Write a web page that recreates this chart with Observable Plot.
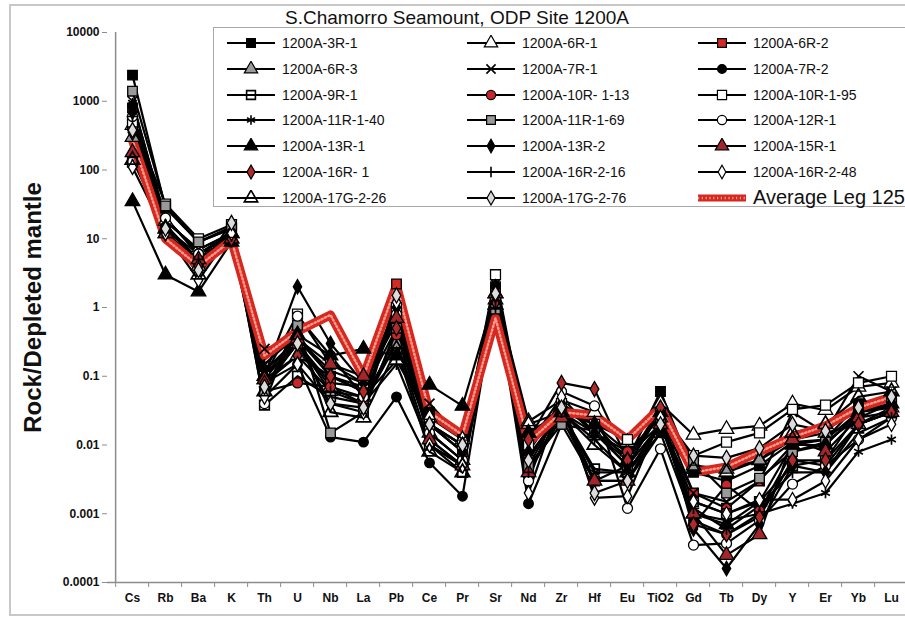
<!DOCTYPE html>
<html><head><meta charset="utf-8">
<script src="https://cdn.jsdelivr.net/npm/d3@7"></script>
<script src="https://cdn.jsdelivr.net/npm/@observablehq/plot@0.6"></script>
<style>
html,body{margin:0;padding:0;background:#fff;overflow:hidden;}
#wrap{position:relative;width:905px;height:623px;overflow:hidden;font-family:"Liberation Sans",Arial,sans-serif;color:#111;}
#border{position:absolute;left:9px;top:4px;width:930px;height:612px;border:2px solid #c8c8c8;box-sizing:border-box;}
#chart{position:absolute;left:0;top:0;width:922px;}
#chart svg{max-width:none !important;}
#title{position:absolute;top:7px;left:457px;transform:translateX(-50%);font-size:19px;white-space:nowrap;line-height:22px;}
#legend{position:absolute;left:213px;top:27px;width:720px;height:180px;border:1.5px solid #a8a8a8;background:#fff;box-sizing:border-box;}
.item{position:absolute;height:22px;display:flex;align-items:center;font-size:14px;white-space:nowrap;}
.item svg{margin-right:7px;}
</style></head>
<body><div id="wrap"><div id="border"></div><div id="chart"></div><div id="title">S.Chamorro Seamount, ODP Site 1200A</div><div id="legend"></div></div>
<script>
const categories = ["Cs","Rb","Ba","K","Th","U","Nb","La","Pb","Ce","Pr","Sr","Nd","Zr","Hf","Eu","TiO2","Gd","Tb","Dy","Y","Er","Yb","Lu"];
const yTicks = [0.0001,0.001,0.01,0.1,1,10,100,1000,10000];
const yTickLabels = ["0.0001","0.001","0.01","0.1","1","10","100","1000","10000"];

const seriesNames = ["1200A-3R-1","1200A-6R-1","1200A-6R-2","1200A-6R-3","1200A-7R-1","1200A-7R-2","1200A-9R-1","1200A-10R- 1-13","1200A-10R-1-95","1200A-11R-1-40","1200A-11R-1-69","1200A-12R-1","1200A-13R-1","1200A-13R-2","1200A-15R-1","1200A-16R- 1","1200A-16R-2-16","1200A-16R-2-48","1200A-17G-2-26","1200A-17G-2-76"];
const averageName = "Average Leg 125";

const s3R1    = [2400,28,9,15,0.12,0.35,0.1,0.06,1.0,0.03,0.012,2.0,0.009,0.04,0.015,0.006,0.06,0.004,0.003,0.005,0.011,0.012,0.04,0.05];
const s6R1    = [450,18,7,12,0.1,0.3,0.07,0.05,0.17,0.025,0.012,1.6,0.022,0.045,0.03,0.011,0.04,0.014,0.017,0.019,0.04,0.032,0.07,0.08];
const s6R2    = [800,14,5,10,0.1,0.3,0.08,0.07,2.2,0.02,0.008,1.8,0.006,0.035,0.003,0.005,0.03,0.002,0.0012,0.003,0.01,0.012,0.03,0.04];
const s6R3    = [300,12,4,10,0.09,0.2,0.06,0.05,0.3,0.015,0.006,1.3,0.015,0.03,0.015,0.008,0.025,0.005,0.0045,0.006,0.012,0.015,0.02,0.035];
const s7R1    = [1000,18,7,12,0.25,0.35,0.12,0.08,0.6,0.04,0.012,2.2,0.01,0.05,0.015,0.007,0.02,0.002,0.0015,0.003,0.03,0.015,0.1,0.06];
const s7R2    = [850,20,6,11,0.08,0.15,0.013,0.011,0.05,0.0055,0.0018,1.5,0.0014,0.02,0.003,0.003,0.015,0.0008,0.0005,0.001,0.006,0.005,0.02,0.03];
const s9R1    = [130,30,9,14,0.038,0.1,0.05,0.04,0.3,0.01,0.004,1.2,0.004,0.03,0.0045,0.004,0.02,0.0015,0.001,0.0015,0.005,0.006,0.03,0.04];
const s10R113 = [400,14,6,9,0.06,0.08,0.07,0.04,0.4,0.015,0.006,1.3,0.005,0.035,0.02,0.008,0.025,0.0007,0.0026,0.0011,0.008,0.01,0.03,0.035];
const s10R195 = [500,32,10,16,0.1,0.8,0.15,0.08,1.0,0.02,0.01,3.0,0.01,0.04,0.02,0.012,0.03,0.007,0.011,0.015,0.033,0.038,0.08,0.1];
const s11R140 = [950,20,6,12,0.15,0.4,0.1,0.07,0.8,0.02,0.008,1.8,0.007,0.03,0.004,0.004,0.02,0.001,0.0008,0.001,0.0014,0.002,0.008,0.012];
const s11R169 = [1400,30,9,14,0.06,0.55,0.015,0.03,0.5,0.012,0.005,0.95,0.005,0.02,0.016,0.005,0.02,0.006,0.002,0.0033,0.008,0.011,0.025,0.04];
const s12R1   = [600,20,6,12,0.04,0.75,0.2,0.05,0.8,0.015,0.006,1.4,0.003,0.06,0.037,0.0012,0.0088,0.00035,0.00037,0.0008,0.0027,0.005,0.012,0.025];
const s13R1   = [35,3,1.7,9,0.1,0.4,0.2,0.25,0.2,0.075,0.037,1.6,0.015,0.03,0.02,0.006,0.03,0.001,0.0007,0.0015,0.01,0.01,0.03,0.04];
const s13R2   = [700,15,5,11,0.1,2.0,0.3,0.08,1.0,0.02,0.008,2.0,0.008,0.04,0.015,0.005,0.03,0.0006,0.00016,0.0007,0.005,0.004,0.02,0.03];
const s15R1   = [180,12,5,10,0.09,0.35,0.15,0.1,0.7,0.012,0.005,1.6,0.004,0.025,0.003,0.003,0.02,0.001,0.00025,0.0005,0.012,0.008,0.025,0.03];
const s16R1   = [350,12,4,10,0.08,0.2,0.1,0.06,0.5,0.02,0.01,1.2,0.012,0.08,0.065,0.006,0.035,0.0007,0.0005,0.0009,0.006,0.006,0.02,0.03];
const s16R216 = [600,16,5,11,0.07,0.3,0.06,0.04,0.15,0.01,0.005,1.0,0.004,0.03,0.012,0.004,0.02,0.0012,0.0006,0.0013,0.004,0.004,0.015,0.025];
const s16R248 = [110,12,2.5,12,0.05,0.15,0.04,0.03,1.2,0.01,0.005,1.5,0.002,0.05,0.0017,0.0018,0.025,0.0015,0.001,0.0016,0.0016,0.003,0.012,0.02];
const s17G226 = [140,14,3,12,0.06,0.4,0.03,0.025,0.25,0.008,0.004,1.1,0.02,0.03,0.01,0.004,0.015,0.0045,0.004,0.006,0.015,0.02,0.05,0.06];
const s17G276 = [380,14,3.5,17,0.07,0.3,0.04,0.035,1.5,0.02,0.01,1.6,0.006,0.035,0.002,0.003,0.02,0.007,0.0065,0.009,0.02,0.016,0.035,0.05];
const avgLeg125 = [270,10,4,9.5,0.2,0.45,0.78,0.1,2.1,0.03,0.014,0.7,0.011,0.03,0.027,0.012,0.035,0.004,0.0048,0.008,0.013,0.019,0.035,0.05];

const seriesValues = [s3R1,s6R1,s6R2,s6R3,s7R1,s7R2,s9R1,s10R113,s10R195,s11R140,s11R169,s12R1,s13R1,s13R2,s15R1,s16R1,s16R216,s16R248,s17G226,s17G276];
const markerSymbols = ["square","triangle","square","triangle","times","circle","square","circle","square","asterisk","square","circle","triangle","diamond","triangle","diamond","plus","diamond","triangle","diamond"];
const markerFills = ["#000","#fff","#d42a22","#9a9a9a","none","#000","none","#c8262a","#fff","none","#9a9a9a","#fff","#000","#000","#a3262a","#b02a2a","none","#fff","none","#dcdcdc"];
const markerSizes = [5.4,5.4,5.4,5.4,4.6,4.8,5.4,5,5.6,4.8,5.4,5,5.4,4.4,5.4,4.6,3.8,4.4,5.4,4.6];

const rows = [];
seriesValues.forEach((vals, k) => vals.forEach((v, i) => rows.push({series: seriesNames[k], el: categories[i], v})));
const avgRows = avgLeg125.map((v, i) => ({el: categories[i], v}));

const W = 922, left = 107, right = 916.8;
const step = (right - left) / categories.length;
const axisColor = "#8c8c8c";

const dotMarks = seriesValues.map((vals, k) => Plot.dot(vals.map((v, i) => ({el: categories[i], v})), {
  x: "el", y: "v", symbol: markerSymbols[k], r: markerSizes[k],
  fill: markerFills[k], stroke: "#000", strokeWidth: (markerFills[k] === "none" ? 1.7 : 1.3)
}));

const chart = Plot.plot({
  width: W, height: 623,
  marginLeft: left, marginRight: W - right, marginTop: 32, marginBottom: 41,
  style: {fontFamily: "'Liberation Sans', Arial, sans-serif", background: "transparent", color: "#111", overflow: "visible", maxWidth: "none"},
  x: {type: "point", domain: categories, padding: 0.5, label: null},
  y: {type: "log", domain: [1e-4, 1e4], label: null},
  marks: [
    Plot.ruleY([1e-4], {stroke: axisColor, strokeWidth: 1.5}),
    Plot.ruleX([categories[0]], {dx: -step / 2, stroke: axisColor, strokeWidth: 1.5}),
    Plot.ruleX(categories, {x: d => d, y1: 1e-4, y2: 1e-4, dx: -step / 2, insetBottom: -5, stroke: axisColor}),
    Plot.axisX({tickSize: 0, tickPadding: 11, fontSize: 12, fontWeight: "bold"}),
    Plot.axisY({ticks: yTicks, tickFormat: d => yTickLabels[yTicks.indexOf(d)], tickSize: 5, tickPadding: 3, fontSize: 12, fontWeight: "bold", stroke: axisColor}),
    Plot.text(["Rock/Depleted mantle"], {frameAnchor: "left", textAnchor: "middle", dx: -74, rotate: -90, fontSize: 24, fontWeight: "bold", fill: "#111"}),
    Plot.line(rows, {x: "el", y: "v", z: "series", stroke: "#000", strokeWidth: 2.2}),
    Plot.line(avgRows, {x: "el", y: "v", stroke: "#d6281f", strokeWidth: 9}),
    Plot.line(avgRows, {x: "el", y: "v", stroke: "#f59a8c", strokeWidth: 2.5, strokeDasharray: "1.2,2.6"}),
    ...dotMarks
  ]
});
chart.style.maxWidth = "none";
document.getElementById("chart").appendChild(chart);

// legend
const symMap = {square: d3.symbolSquare, triangle: d3.symbolTriangle, circle: d3.symbolCircle, diamond: d3.symbolDiamond, times: d3.symbolTimes, asterisk: d3.symbolAsterisk, plus: d3.symbolPlus};
const legend = d3.select("#legend");
const colX = [13, 253, 484];
const items = seriesNames.map((n, k) => ({name: n, k})).concat([{name: averageName, k: -1}]);
items.forEach((it, idx) => {
  const row = Math.floor(idx / 3), col = idx % 3;
  const div = legend.append("div").attr("class", "item")
    .style("left", colX[col] + "px").style("top", (4 + row * 25.8) + "px");
  const svg = div.append("svg").attr("width", 48).attr("height", 16);
  if (it.k >= 0) {
    svg.append("line").attr("x1", 0).attr("x2", 48).attr("y1", 8).attr("y2", 8).attr("stroke", "#000").attr("stroke-width", 2.2);
    const r = markerSizes[it.k] * 0.92;
    svg.append("path").attr("d", d3.symbol(symMap[markerSymbols[it.k]], Math.PI * r * r)())
      .attr("transform", "translate(24,8)")
      .attr("fill", markerFills[it.k]).attr("stroke", "#000").attr("stroke-width", markerFills[it.k] === "none" ? 1.6 : 1.2);
    div.append("span").text(it.name);
  } else {
    svg.append("line").attr("x1", 0).attr("x2", 48).attr("y1", 8).attr("y2", 8).attr("stroke", "#d6281f").attr("stroke-width", 7);
    svg.append("line").attr("x1", 0).attr("x2", 48).attr("y1", 8).attr("y2", 8).attr("stroke", "#f59a8c").attr("stroke-width", 2.5).attr("stroke-dasharray", "1.2,2.6");
    div.append("span").text(it.name).style("font-size", "20px");
  }
});
</script></body></html>
